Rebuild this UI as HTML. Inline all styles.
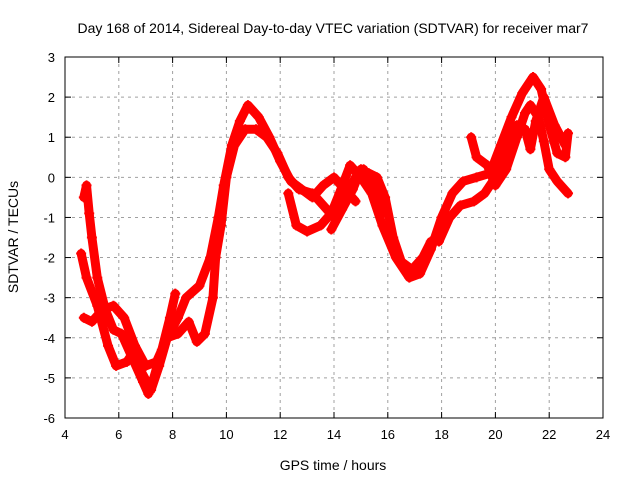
<!DOCTYPE html>
<html><head><meta charset="utf-8"><style>
body{margin:0;background:#fff}
svg{display:block;font-family:"Liberation Sans",sans-serif}
</style></head><body>
<svg id="chart" width="640" height="480">
<rect width="640" height="480" fill="#fff"/>
<text x="333" y="33" font-size="14" text-anchor="middle">Day 168 of 2014, Sidereal Day-to-day VTEC variation (SDTVAR) for receiver mar7</text>
<text x="333" y="470" font-size="14" text-anchor="middle">GPS time / hours</text>
<text x="18" y="237" font-size="14" text-anchor="middle" transform="rotate(-90 18 237)">SDTVAR / TECUs</text>
<g id="grid"></g><g id="series"></g><g id="axes"></g>
</svg>
<script>
const xTicks=[4,6,8,10,12,14,16,18,20,22,24];
const yTicks=[-6,-5,-4,-3,-2,-1,0,1,2,3];
const s1=[[4.7,-0.5],[4.8,-0.2],[4.9,-0.9],[5.0,-1.5],[5.2,-2.5],[5.5,-3.3],[5.8,-3.8],[6.1,-3.9],[6.5,-4.5],[6.9,-5.1],[7.1,-5.4],[7.3,-5.0],[7.6,-4.3],[7.9,-3.5],[8.1,-2.9]];
const s2=[[4.6,-1.9],[4.8,-2.5],[5.2,-3.2],[5.6,-4.2],[5.9,-4.7],[6.3,-4.6],[6.5,-4.4],[6.8,-4.8],[7.2,-5.3],[7.5,-4.7],[7.8,-4.0],[8.2,-3.5],[8.5,-3.0],[9.0,-2.7],[9.4,-2.0],[9.7,-1.0],[9.9,-0.2],[10.2,0.8],[10.5,1.4],[10.8,1.8],[11.2,1.5],[11.6,1.0],[12.0,0.4],[12.4,-0.1],[12.8,-0.3],[13.2,-0.5],[13.6,-0.2],[14.0,0.0],[14.4,-0.3],[14.8,-0.6]];
const s3=[[4.7,-3.5],[5.0,-3.6],[5.4,-3.3],[5.8,-3.2],[6.2,-3.5],[6.6,-4.2],[7.0,-4.7],[7.4,-4.6],[7.8,-4.0],[8.2,-3.9],[8.6,-3.6],[8.9,-4.1],[9.2,-3.9],[9.5,-3.0],[9.6,-2.0],[9.8,-1.2],[10.0,0.0],[10.3,0.8],[10.7,1.2],[11.1,1.2],[11.5,1.0],[11.9,0.6],[12.3,0.0],[12.7,-0.3],[13.2,-0.4],[13.6,-0.7],[14.0,-1.0],[14.4,-0.5],[14.8,0.0],[15.1,0.2],[15.4,-0.2],[15.8,-0.9]];
const s4=[[12.3,-0.4],[12.6,-1.2],[13.0,-1.35],[13.5,-1.2],[13.9,-0.9],[14.2,-0.4],[14.6,0.3],[15.0,0.0],[15.4,-0.4],[15.8,-1.2],[16.3,-2.0],[16.8,-2.5],[17.2,-2.4],[17.6,-1.8],[18.0,-1.0],[18.4,-0.4],[18.8,-0.1],[19.3,0.0],[19.8,0.1],[20.2,0.8],[20.6,1.5],[21.0,2.1],[21.4,2.5],[21.7,2.2],[22.0,1.3],[22.3,0.6],[22.6,0.5],[22.7,1.1]];
const s5=[[13.9,-1.3],[14.3,-0.8],[14.7,-0.3],[15.0,0.2],[15.3,0.1],[15.6,0.0],[15.9,-0.5],[16.2,-1.5],[16.5,-2.1],[16.9,-2.3],[17.3,-2.0],[17.6,-1.6]];
const s6=[[19.1,1.0],[19.3,0.5],[19.7,0.3],[20.0,-0.2],[20.4,0.2],[20.8,1.0],[21.1,1.6],[21.3,1.8],[21.6,1.5],[21.8,0.9],[22.0,0.2],[22.3,-0.1],[22.7,-0.4]];
const s7=[[17.9,-1.6],[18.3,-1.0],[18.7,-0.7],[19.2,-0.6],[19.6,-0.4],[20.0,0.0],[20.5,0.8],[20.8,1.3],[21.1,1.2],[21.3,0.7],[21.5,1.4],[21.8,2.0],[22.2,1.3],[22.6,0.8]];
const allSeries=[s1,s2,s3,s4,s5,s6,s7];
const L=65,R=603,T=57,B=418;
const xs=h=>L+(h-4)/20*(R-L);
const ys=v=>B-(v+6)/9*(B-T);
const NS="http://www.w3.org/2000/svg";
function mk(tag,attrs,parent){const e=document.createElementNS(NS,tag);for(const k in attrs)e.setAttribute(k,attrs[k]);parent.appendChild(e);return e;}
const grid=document.getElementById('grid'),axes=document.getElementById('axes'),ser=document.getElementById('series');
xTicks.forEach(t=>{const x=xs(t);
 if(t>4&&t<24){const g=mk('line',{x1:x,x2:x,y1:T,y2:B,stroke:'#a0a0a0','stroke-dasharray':'3,4'},grid);
 
 }
 const tx=mk('text',{x:x,y:B+21,'font-size':13,'text-anchor':'middle'},axes);tx.textContent=t;
 
 
 mk('line',{x1:x,x2:x,y1:B,y2:B-6,stroke:'#000'},axes);mk('line',{x1:x,x2:x,y1:T,y2:T+6,stroke:'#000'},axes);});
yTicks.forEach(t=>{const y=ys(t);
 if(t>-6&&t<3){const g=mk('line',{x1:L,x2:R,y1:y,y2:y,stroke:'#a0a0a0','stroke-dasharray':'3,4'},grid);
 
 }
 const tx=mk('text',{x:L-10,y:y+5,'font-size':13,'text-anchor':'end'},axes);tx.textContent=t;
 
 
 mk('line',{x1:L,x2:L+6,y1:y,y2:y,stroke:'#000'},axes);mk('line',{x1:R,x2:R-6,y1:y,y2:y,stroke:'#000'},axes);});
const fr=mk('rect',{x:L,y:T,width:R-L,height:B-T,fill:'none',stroke:'#000'},axes);


allSeries.forEach((s,i)=>{
 const p=mk('polyline',{points:s.map(d=>xs(d[0])+','+ys(d[1])).join(' '),fill:'none',stroke:'#ff0000','stroke-width':9,'stroke-linejoin':'round','stroke-linecap':'round'},ser);
 
 
 s.forEach(d=>{const x=xs(d[0]),y=ys(d[1]);
  const m=mk('path',{d:`M${x-5},${y}h10M${x},${y-5}v10`,stroke:'#ff0000','stroke-width':2},ser);
  
  });
});
</script>
</body></html>
